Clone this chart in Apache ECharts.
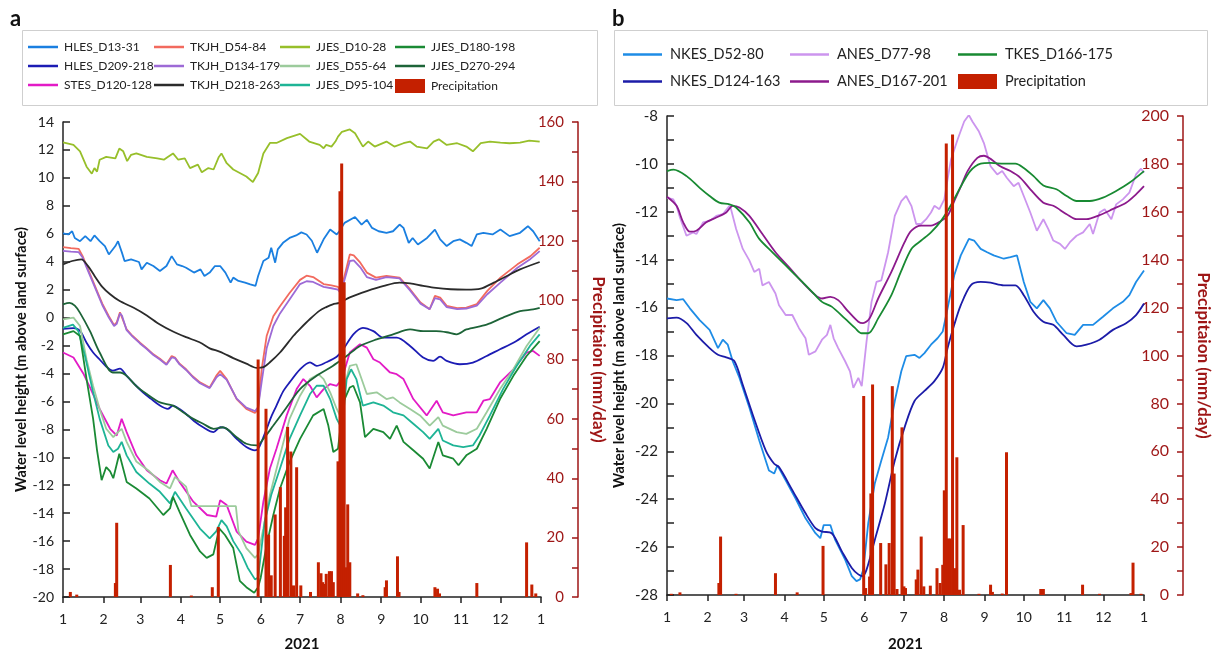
<!DOCTYPE html>
<html><head><meta charset="utf-8">
<script src="https://cdn.jsdelivr.net/npm/echarts@6/dist/echarts.min.js"></script>
<style>html,body{margin:0;padding:0;background:#fff}#c{width:1213px;height:657px}</style>
</head><body><div id="c"></div>
<script>
// ---- shared x axis (day of year 2021) ----
const monthStarts = [0,31,59,90,120,151,181,212,243,273,304,334,365];
const monthLabels = ['1','2','3','4','5','6','7','8','9','10','11','12','1'];

// ---- Panel a : water levels [day, m] ----
const hles13 = [[0,6.02],[4,5.95],[7,6.18],[9,5.7],[13,5.47],[17,5.83],[21,5.47],[24,5.88],[28,5.47],[32,5.12],[35,4.52],[40,5.12],[42,5.47],[45,4.65],[47,4.05],[52,4.17],[58,3.98],[60,3.45],[64,3.93],[69,3.69],[74,3.34],[79,3.69],[83,4.4],[87,3.81],[91,3.69],[94,3.57],[100,3.22],[105,3.45],[108,2.98],[112,3.22],[116,3.69],[120,3.69],[124,3.22],[128,2.5],[130,2.86],[134,2.62],[139,2.5],[143,2.38],[147,2.27],[149,2.98],[153,4.05],[157,4.28],[159,5.0],[162,3.93],[164,4.88],[168,5.35],[173,5.7],[178,5.88],[182,6.1],[186,5.95],[190,5.5],[194,4.64],[199,5.6],[204,6.3],[209,5.95],[211,6.18],[215,6.78],[223,7.2],[228,6.66],[232,7.0],[236,6.42],[241,6.18],[247,6.07],[252,6.18],[257,6.66],[260,6.42],[264,5.35],[267,5.7],[271,5.23],[278,5.7],[284,6.3],[288,5.6],[293,5.12],[298,5.47],[303,5.6],[308,5.35],[312,5.12],[316,5.95],[321,6.07],[328,5.95],[334,6.3],[341,5.83],[349,6.07],[355,6.54],[359,6.18],[364,5.47]];
const hles209 = [[0,-0.8],[8,-0.75],[13,-0.95],[18,-1.8],[23,-2.5],[28,-3.0],[33,-3.5],[38,-3.8],[43.5,-3.65],[48.6,-4.17],[55,-4.8],[61,-5.35],[67,-5.8],[74,-6.3],[80,-6.54],[84,-6.3],[89,-6.55],[94,-6.9],[100,-7.4],[107,-7.85],[115,-8.2],[120,-7.85],[125,-7.96],[132.6,-8.68],[140,-9.27],[146.6,-9.5],[149,-9.39],[152,-8.8],[155.5,-7.96],[159,-7.1],[163,-6.3],[168,-5.3],[173,-4.64],[181,-3.7],[188.6,-3.2],[193.7,-3.46],[201,-3.2],[209,-2.8],[214,-2.27],[221.7,-1.2],[229,-0.73],[237,-0.97],[244.6,-1.44],[254.8,-1.44],[265,-2.03],[275,-2.86],[282.7,-3.1],[287.9,-2.8],[293,-3.1],[303,-3.34],[313,-3.22],[323.5,-2.75],[333.7,-2.27],[343.9,-1.8],[354,-1.2],[364,-0.66]];
const stes120 = [[0,-2.5],[8,-2.86],[15.5,-4.0],[20.6,-5.0],[28,-6.54],[36,-7.96],[41,-8.44],[44.8,-7.25],[48.6,-8.2],[56,-9.86],[64,-10.93],[74,-11.64],[79,-11.88],[83.7,-10.93],[89,-11.76],[99.5,-13.18],[110,-14.13],[117,-14.25],[120,-13.07],[125,-13.42],[132.6,-15.32],[140,-16.03],[146.6,-16.27],[149,-15.8],[153,-13.18],[158,-10.8],[163,-9.39],[170.8,-7.0],[178.4,-5.12],[183.5,-4.4],[188.6,-4.88],[193.7,-5.71],[199,-5.12],[204,-4.76],[209,-4.88],[213,-4.4],[219,-2.5],[226.8,-1.91],[232,-2.15],[237,-2.98],[242,-3.22],[249.7,-3.93],[254.8,-4.05],[260,-4.4],[267.5,-5.83],[277.7,-7.0],[285.3,-5.95],[290,-6.78],[298,-7.0],[308,-6.78],[316,-6.78],[321,-5.95],[326,-5.83],[333.7,-4.64],[343.9,-3.7],[354,-2.5],[359,-2.39],[364,-2.74]];
const tkjh54 = [[0,5.05],[6,4.97],[12,4.92],[15,4.4],[18,3.7],[22,2.8],[26,1.9],[30,1.0],[35,0.1],[39,-0.55],[41,-0.35],[43.5,0.38],[45,0.25],[48.6,-0.85],[53,-1.3],[58.8,-1.8],[64,-2.2],[69,-2.63],[74,-2.95],[79,-3.34],[83,-2.75],[85.5,-2.86],[89,-3.3],[94,-3.7],[99,-4.2],[104.6,-4.64],[112,-5.0],[117,-4.17],[120,-3.81],[125,-4.4],[132.6,-5.83],[140,-6.54],[146.6,-6.83],[149,-6.54],[151.7,-3.7],[155.5,-1.32],[160.6,0.1],[165.7,0.81],[173,1.76],[181,2.7],[186,3.0],[191,2.9],[199,2.4],[205,2.3],[210,2.2],[212,1.85],[215,3.0],[219,4.52],[222,4.45],[227,3.93],[232,3.22],[239,2.86],[247,2.98],[257,2.86],[265,2.03],[273,1.08],[280,0.6],[284,1.55],[288,1.43],[293,0.84],[301,0.67],[308,0.72],[316,0.96],[324,1.91],[334,2.86],[347,3.81],[357,4.4],[364,5.0]];
const tkjh134 = [[0,4.78],[6,4.72],[12,4.68],[15,4.3],[18,3.6],[22,2.7],[26,1.8],[30,0.9],[35,0.0],[39,-0.6],[41,-0.45],[43.5,0.3],[45,0.15],[48.6,-0.9],[53,-1.35],[58.8,-1.85],[64,-2.25],[69,-2.68],[74,-3.0],[79,-3.38],[83,-2.85],[85.5,-2.9],[89,-3.35],[94,-3.75],[99,-4.25],[104.6,-4.7],[112,-5.05],[117,-4.3],[120,-4.05],[125,-4.45],[132.6,-5.8],[140,-6.45],[146.6,-6.7],[149,-6.4],[151.7,-4.6],[155.5,-2.2],[160.6,-0.6],[165.7,0.3],[173,1.3],[181,2.4],[186,2.6],[191,2.55],[199,2.2],[205,2.1],[210,2.0],[212,1.75],[215,2.7],[219,4.05],[222,4.1],[227,3.6],[232,2.9],[239,2.7],[247,2.9],[257,2.8],[265,1.95],[273,1.0],[280,0.6],[284,1.4],[288,1.3],[293,0.75],[301,0.6],[308,0.65],[316,0.85],[324,1.67],[334,2.5],[347,3.57],[357,4.2],[364,4.76]];
const tkjh218 = [[0,3.8],[7,4.05],[14,4.17],[19,3.7],[24,3.0],[30,2.2],[36,1.67],[43,1.2],[54,0.7],[64,0.15],[74,-0.5],[84,-1.0],[94,-1.4],[105,-1.8],[112,-2.2],[120,-2.45],[130,-2.9],[140,-3.3],[148,-3.6],[153,-3.55],[158,-3.2],[165.7,-2.5],[176,-1.3],[181,-0.8],[188.6,-0.1],[196,0.5],[201,0.75],[206,0.95],[211,1.05],[219,1.45],[232,1.9],[245,2.27],[257,2.5],[265,2.45],[275,2.27],[283,2.15],[296,2.03],[308,2.0],[319,2.07],[329,2.5],[339,2.98],[349,3.45],[364,3.98]];
const jjes10 = [[0,12.55],[8,12.36],[13,11.9],[18,10.8],[22,10.3],[24,10.7],[26,10.45],[28,11.3],[33,11.5],[40,11.4],[43,12.1],[46,11.9],[49,11.2],[52,11.65],[56,11.75],[64,11.5],[72,11.4],[77,11.3],[80,11.5],[84,11.75],[88,11.3],[93,11.4],[97,10.7],[103,10.95],[106,10.4],[111,10.7],[115,10.6],[119,11.5],[121,11.75],[125,11.05],[130,10.6],[135,10.35],[140,10.1],[145,9.7],[149,10.35],[153,11.75],[158,12.5],[163,12.5],[171,12.85],[181,13.15],[188,12.6],[196,12.36],[199,12.12],[201,12.36],[205,12.24],[208,12.6],[210,12.95],[213,13.3],[219,13.47],[223,13.2],[229,12.24],[233,12.6],[238,12.24],[247,12.6],[253,12.24],[260,12.48],[265,12.6],[270,12.24],[278,12.12],[283,12.6],[287,12.76],[293,12.36],[301,12.48],[308,12.24],[313,11.9],[319,12.48],[326,12.6],[334,12.53],[341,12.48],[349,12.53],[356,12.67],[364,12.6]];
const jjes55 = [[0,-0.13],[8,0.0],[13,-0.6],[18,-3.0],[23,-4.9],[28,-6.54],[33,-7.96],[38.4,-8.56],[42,-8.2],[44.8,-7.96],[48.6,-8.9],[56,-10.3],[66,-11.0],[74,-11.76],[81.7,-12.23],[85.5,-11.4],[94,-12.1],[98,-13.5],[132,-13.5],[134,-15.3],[140,-16.5],[146.6,-17.2],[149,-16.95],[153,-15.1],[158,-12.7],[165.7,-9.86],[173,-7.25],[181,-5.59],[188.6,-4.4],[195,-4.05],[199,-4.4],[204,-5.35],[209,-6.54],[211.5,-7.0],[215,-4.88],[219,-3.46],[224,-3.34],[228,-4.4],[232,-5.47],[239.5,-5.35],[247,-5.83],[252,-5.71],[257,-6.07],[265,-6.54],[272.6,-7.0],[280,-7.73],[286.6,-7.13],[290,-7.73],[300.6,-8.2],[308,-8.32],[316,-7.96],[323.5,-6.78],[333.7,-5.12],[343.9,-3.7],[354,-2.03],[364,-0.73]];
const jjes95 = [[0,-0.73],[7.6,-0.5],[11.7,-0.97],[16.8,-2.75],[23,-5.35],[28,-7.25],[34.6,-9.15],[38.4,-9.62],[42,-9.39],[44.8,-8.9],[48.6,-9.86],[56,-11.05],[66,-11.88],[74,-12.47],[81.7,-13.3],[85.5,-12.47],[94,-13.66],[104.6,-15.1],[112,-15.8],[117,-15.3],[121,-14.5],[125,-14.95],[130,-16.0],[136.4,-16.95],[141,-17.9],[146.6,-18.74],[149,-18.6],[151,-17.0],[154,-14.6],[159,-12.7],[165.7,-10.8],[173,-8.68],[181,-7.0],[188.6,-5.47],[193.7,-4.88],[199,-4.88],[204,-5.83],[209,-7.25],[213,-7.96],[216.6,-4.4],[220,-3.7],[224,-4.4],[229,-6.3],[237,-6.07],[244.6,-6.3],[252,-6.78],[260,-7.0],[267.5,-7.6],[275,-8.2],[280,-8.68],[286.6,-7.96],[290,-8.8],[298,-9.15],[305.6,-9.27],[313,-9.15],[318,-8.44],[326,-7.0],[336,-5.12],[346.4,-3.46],[356.6,-2.03],[364,-1.2]];
const jjes180 = [[0,-1.2],[8,-0.97],[13,-1.32],[18,-4.4],[23,-7.25],[26,-9.5],[29.5,-11.64],[33,-10.7],[36,-11.0],[38.4,-11.5],[43,-9.74],[48.6,-11.76],[56,-12.23],[66,-12.95],[76.6,-14.13],[81.7,-13.66],[84,-12.83],[89,-13.9],[97,-15.56],[104.6,-16.74],[109.7,-17.2],[114.8,-16.95],[119.4,-15.1],[123.7,-15.56],[130,-16.5],[135,-18.85],[140,-19.3],[146,-19.7],[149,-19.3],[151,-18.6],[155.5,-16.27],[160.6,-14.13],[165.7,-12.23],[173,-10.34],[181,-8.68],[191,-7.0],[199,-6.54],[202.6,-7.73],[206.4,-9.62],[210,-9.39],[214,-6.07],[219,-5.0],[221.7,-4.88],[226.8,-6.07],[230.6,-8.56],[237,-7.96],[244.6,-8.2],[249.7,-8.68],[254.8,-7.73],[260,-8.9],[267.5,-9.5],[275,-10.1],[280,-10.8],[286.6,-8.9],[290,-9.86],[298,-10.1],[302,-10.57],[308,-9.86],[316,-9.39],[323.5,-7.96],[333.7,-5.83],[343.9,-4.17],[354,-2.75],[364,-1.68]];
const jjes270 = [[0,0.95],[5,1.05],[9,0.85],[13,0.34],[20.6,-0.97],[28,-2.5],[38,-3.93],[43.5,-3.93],[48.6,-4.17],[56,-4.9],[64,-5.47],[74,-6.07],[84,-6.3],[92,-6.8],[99.5,-7.25],[107,-7.6],[115,-7.96],[122,-7.85],[132.6,-8.56],[140,-9.03],[148,-9.15],[153,-8.68],[160.6,-7.73],[170.8,-6.42],[181,-5.12],[193.7,-4.17],[206,-3.46],[216.6,-2.75],[226.8,-2.03],[239.5,-1.56],[252,-1.2],[265,-0.85],[275,-0.97],[285,-0.97],[293,-1.05],[300.6,-1.2],[308,-0.85],[323.5,-0.5],[336,0.0],[349,0.46],[359,0.58],[364,0.7]];
const precipA = [[5.6,1.7],[10.5,0.8],[40,4.7],[41,25],[82,10.8],[98,0.5],[114,3.3],[118.6,23.6],[149,80],[155,63.4],[157,21],[159,7.3],[162,27.8],[166,37],[169,20.6],[170,30.2],[171.5,57.3],[174,49],[176,3.9],[178.4,43.7],[181.6,3.9],[189,1.7],[195,11.7],[197,8.0],[198.3,5.0],[199.6,4.4],[201,7.8],[203.4,8.7],[205,8.7],[206.4,5.0],[210,45.7],[211.5,136.7],[212.8,146],[214.7,106],[215.8,10],[217.4,31.2],[219,11.7],[225,1.2],[229,0.6],[246,3.3],[247,5.6],[255.4,13.7],[256.6,1.7],[284,3.3],[286,2.8],[287.5,1.2],[316,4.7],[354,18.4],[358,4.2],[361,1.2]];

// ---- Panel b : water levels [day, m] ----
const nkes52 = [[0,-15.62],[7.3,-15.69],[12.4,-15.65],[17.5,-16.03],[25,-16.52],[32.6,-16.93],[39,-17.69],[42.7,-17.34],[46.5,-17.55],[50.3,-18.24],[55.4,-18.93],[63,-20.17],[70.6,-21.55],[78,-22.8],[82,-22.93],[84.5,-22.59],[90.8,-23.21],[98.4,-23.97],[106,-24.8],[113.6,-25.42],[117.3,-25.63],[119.9,-25.08],[125,-25.08],[128.7,-25.7],[136.3,-26.52],[141.4,-27.21],[145,-27.42],[147.7,-27.35],[150.2,-26.94],[154,-25.0],[159,-23.34],[164,-22.38],[169.2,-21.42],[174.3,-19.9],[179.3,-18.66],[183,-18.03],[189.4,-17.97],[193.2,-18.1],[197,-17.9],[202,-17.55],[207,-17.28],[211,-17.0],[214.7,-16.03],[219.8,-14.65],[224.8,-13.82],[231,-13.13],[235,-13.2],[240,-13.55],[245,-13.69],[250,-13.82],[257.7,-13.96],[262.8,-13.89],[267.8,-13.82],[273,-14.93],[278,-15.76],[283,-16.03],[288,-15.69],[293,-16.03],[298,-16.59],[305.8,-17.07],[312,-17.14],[318.4,-16.72],[326,-16.72],[333.6,-16.38],[341.2,-16.03],[348.8,-15.76],[353.8,-15.48],[358.9,-14.93],[365,-14.45]];
const nkes124 = [[0,-16.45],[7.3,-16.42],[15,-16.65],[22.5,-17.14],[32.6,-17.69],[39,-17.97],[45.3,-18.08],[51.6,-18.24],[57.9,-19.21],[65.5,-20.45],[75.6,-21.97],[82,-22.52],[85.7,-22.66],[95.9,-23.62],[106,-24.59],[113.6,-25.21],[118.6,-25.35],[126,-25.42],[133.8,-26.18],[141.4,-26.87],[146.4,-27.14],[149.5,-27.21],[152.7,-26.94],[159,-25.7],[166.7,-24.18],[174.3,-22.38],[181.8,-21.0],[189.4,-19.9],[197,-19.48],[204.6,-19.07],[211,-18.52],[214.7,-17.69],[219.8,-16.72],[224.8,-15.9],[232.4,-15.07],[240,-14.93],[247.6,-14.96],[257.7,-15.07],[266.6,-15.07],[273,-15.48],[280.5,-16.17],[288,-16.59],[295.6,-16.72],[303.2,-17.14],[313.4,-17.62],[321,-17.55],[331,-17.34],[341.2,-16.93],[351.3,-16.65],[358.9,-16.31],[365,-15.83]];
const anes77 = [[0,-11.41],[4.8,-11.48],[7.3,-11.75],[9.9,-12.24],[14.9,-13.0],[20,-12.86],[22.5,-12.93],[27.6,-12.44],[32.6,-12.38],[37.7,-12.17],[42.7,-12.1],[47.8,-11.75],[49,-11.89],[52.9,-12.72],[58,-13.55],[63,-14.03],[66.8,-14.51],[70.6,-14.38],[73,-15.07],[78,-14.93],[83,-15.41],[85.7,-15.9],[90.8,-16.31],[95.9,-16.31],[101,-16.86],[106,-17.28],[108.5,-17.97],[113.6,-17.83],[118.6,-17.34],[122.4,-17.14],[125,-16.72],[127.5,-17.28],[131,-17.69],[136.3,-18.24],[140,-18.66],[142.6,-19.35],[146.4,-18.93],[149,-19.28],[152.7,-17.41],[156.5,-15.76],[160.3,-14.93],[164,-14.86],[169.2,-13.69],[174.3,-12.17],[179.3,-11.55],[183,-11.34],[187,-11.75],[190.7,-12.51],[194.5,-12.51],[198.3,-12.31],[202,-12.03],[204.6,-11.75],[208.4,-11.89],[212.2,-11.48],[214.7,-10.65],[217.3,-9.82],[222.3,-8.99],[227.4,-8.23],[231,-7.96],[233.7,-8.23],[238.7,-8.65],[242.5,-9.13],[245,-9.61],[247.6,-10.1],[252.7,-10.44],[256.5,-10.3],[260,-10.58],[265.3,-10.93],[269,-10.79],[273,-11.34],[278,-12.03],[283,-12.79],[288,-12.31],[291.8,-12.72],[295.6,-13.2],[300.7,-13.34],[304.5,-13.55],[308.3,-13.27],[313.4,-13.0],[318.4,-12.86],[323.5,-12.51],[326,-12.93],[331,-12.03],[334.9,-11.89],[340,-12.31],[343.7,-11.69],[348.8,-11.48],[353.8,-11.2],[358.9,-10.44],[362.7,-10.2],[365,-10.37]];
const anes167 = [[0,-11.37],[7.3,-11.75],[12.4,-12.44],[17.5,-12.83],[22.5,-12.79],[30,-12.44],[37.7,-12.24],[45.3,-12.03],[50.3,-11.75],[55.4,-11.82],[63,-12.17],[73,-12.93],[83,-13.69],[93.3,-14.31],[103.4,-14.93],[113.6,-15.48],[118.6,-15.62],[125,-15.55],[131,-15.69],[138.8,-16.17],[146.4,-16.59],[150,-16.65],[155,-16.45],[161.6,-15.62],[171.7,-14.51],[181.8,-13.27],[187,-12.79],[194.5,-12.58],[202,-12.58],[209.7,-12.38],[214.7,-12.17],[219.8,-11.55],[225,-10.93],[230,-10.3],[237.5,-9.75],[242.5,-9.66],[247.6,-9.79],[255,-10.1],[262.8,-10.3],[270.4,-10.58],[278,-11.06],[288,-11.62],[295.6,-11.75],[305.8,-12.1],[313.4,-12.31],[321,-12.31],[331,-12.14],[341,-11.89],[351.3,-11.62],[358.9,-11.27],[365,-10.93]];
const tkes166 = [[0,-10.3],[5,-10.24],[15,-10.51],[25,-11.0],[32.6,-11.34],[40,-11.62],[47.8,-11.69],[52.9,-11.82],[63,-12.44],[70.6,-13.13],[80.7,-13.69],[90.8,-14.24],[101,-14.79],[111,-15.34],[118.6,-15.76],[126,-15.96],[136,-16.45],[144,-16.86],[149,-17.07],[154,-17.07],[161.6,-16.45],[171.7,-15.48],[179,-14.5],[187,-13.55],[194.5,-13.2],[202,-12.86],[209.7,-12.38],[217,-11.75],[225,-10.93],[232,-10.3],[240,-9.99],[247.6,-9.96],[257.7,-9.99],[266.6,-9.99],[273,-10.17],[280.5,-10.51],[288,-10.9],[298,-11.06],[305.8,-11.34],[313.4,-11.55],[323.5,-11.55],[333.6,-11.41],[343.7,-11.13],[353.8,-10.79],[365,-10.3]];
const precipB = [[3.3,0.5],[9.9,1.1],[39.7,5.0],[41,24.4],[52.8,0.5],[83,9.1],[99.6,1.1],[119.4,20.5],[150.5,83.1],[152,2.9],[155,7.7],[156,42.4],[157.3,87.9],[163.5,21.7],[167.5,12.8],[170,21.7],[172.4,87.2],[173.8,50.7],[176,2.5],[179.8,70],[181.3,3.6],[182.5,2.9],[190.7,6.5],[192,10.6],[194.5,24.4],[196.5,3.6],[201.5,3.9],[206.6,11.2],[209,5.0],[211,12.6],[212.2,43.7],[213.7,188.5],[215,23.6],[216.7,23.6],[218.5,192.3],[220.3,11.2],[221.8,57.5],[223.8,2.2],[226.6,29.2],[238.7,0.5],[247.6,4.3],[249,1.3],[256.5,0.6],[259.8,59.6],[286,2.5],[288,2.5],[318,4.3],[331,0.5],[355,0.8],[356.6,13.5],[362.7,0.5]];

// ---- styling / assembly ----
const FONT = 'Lato, "Noto Sans", sans-serif';
const DARKRED = '#9e1616';
const BARCOLOR = '#c42000';
const LINE_ICON_A = 'path://M0,0H12V1H0Z';
const LINE_ICON_B = 'path://M0,0H16V1H0Z';

const linesA = [
  ['HLES_D13-31', hles13, '#1a7fe0', false],
  ['HLES_D209-218', hles209, '#1c1cb4', true],
  ['STES_D120-128', stes120, '#e31bc6', false],
  ['TKJH_D54-84', tkjh54, '#f26a5e', false],
  ['TKJH_D134-179', tkjh134, '#9d6ad6', false],
  ['TKJH_D218-263', tkjh218, '#2b2b2b', true],
  ['JJES_D10-28', jjes10, '#97bf2a', false],
  ['JJES_D55-64', jjes55, '#9ccb9c', false],
  ['JJES_D95-104', jjes95, '#1eb496', false],
  ['JJES_D180-198', jjes180, '#1a8a34', false],
  ['JJES_D270-294', jjes270, '#1d6438', true]
];
const linesB = [
  ['NKES_D52-80', nkes52, '#1e8ce6', false],
  ['NKES_D124-163', nkes124, '#1c1ca8', true],
  ['ANES_D77-98', anes77, '#cc95ee', false],
  ['ANES_D167-201', anes167, '#8c1a8c', true],
  ['TKES_D166-175', tkes166, '#188a32', true]
];

function lineSeries(def, xi, yi, w) {
  return {
    type: 'line', name: def[0], data: def[1], xAxisIndex: xi, yAxisIndex: yi,
    symbol: 'none', showSymbol: false, smooth: def[3] ? 0.3 : false,
    lineStyle: { color: def[2], width: w }, itemStyle: { color: def[2] }, z: 2
  };
}
const series = [];
linesA.forEach(d => series.push(lineSeries(d, 0, 0, 1.8)));
series.push({ type: 'bar', name: 'Precipitation', data: precipA, xAxisIndex: 0, yAxisIndex: 1,
  barWidth: 3, itemStyle: { color: BARCOLOR }, z: 5 });
linesB.forEach(d => series.push(lineSeries(d, 1, 2, 1.8)));
series.push({ type: 'bar', name: 'Precipitation', data: precipB, xAxisIndex: 1, yAxisIndex: 3,
  barWidth: 3, itemStyle: { color: BARCOLOR }, z: 5 });

function xAxisDef(grid, nameGap) {
  return {
    type: 'value', gridIndex: grid, min: 0, max: 365,
    name: '2021', nameLocation: 'middle', nameGap: nameGap,
    nameTextStyle: { fontFamily: FONT, fontWeight: 'bold', fontSize: 15, color: '#111', verticalAlign: 'top' },
    axisLine: { show: true, onZero: false, lineStyle: { color: '#222', width: 1.5 } },
    axisTick: { show: true, inside: false, length: 6, customValues: monthStarts, lineStyle: { color: '#222', width: 1.5 } },
    axisLabel: { customValues: monthStarts, margin: 15, fontFamily: FONT, fontSize: 14, color: '#222',
      formatter: v => monthLabels[monthStarts.indexOf(v)] },
    splitLine: { show: false }
  };
}
function leftAxis(grid, min, max, minor, nameGap, fs) {
  return {
    type: 'value', gridIndex: grid, position: 'left', min: min, max: max, interval: 2,
    name: 'Water level height (m above land surface)', nameLocation: 'middle', nameGap: nameGap,
    nameTextStyle: { fontFamily: FONT, fontWeight: 'bold', fontSize: 14.5, color: '#111' },
    axisLine: { show: true, onZero: false, lineStyle: { color: '#222', width: 1.5 } },
    axisTick: { show: true, inside: true, length: 7, lineStyle: { color: '#222', width: 1.5 } },
    minorTick: { show: minor, splitNumber: 2, length: 7, lineStyle: { color: '#222', width: 1.5 } },
    axisLabel: { margin: 9, fontFamily: FONT, fontSize: fs, color: '#222' },
    splitLine: { show: false }
  };
}
function rightAxis(grid, max, offset, nameGap, fs) {
  return {
    type: 'value', gridIndex: grid, position: 'right', offset: offset, min: 0, max: max, interval: 20,
    name: 'Precipitaion (mm/day)', nameLocation: 'middle', nameRotate: -90, nameGap: nameGap,
    nameTextStyle: { fontFamily: FONT, fontWeight: 'bold', fontSize: 17, color: DARKRED },
    axisLine: { show: true, onZero: false, lineStyle: { color: DARKRED, width: 1.5 } },
    axisTick: { show: true, inside: true, length: 6, lineStyle: { color: DARKRED, width: 1.5 } },
    minorTick: { show: true, splitNumber: 2, length: 6, lineStyle: { color: DARKRED, width: 1.5 } },
    axisLabel: { inside: true, margin: 14, fontFamily: FONT, fontSize: fs, color: DARKRED },
    splitLine: { show: false }
  };
}
function legendCol(left, top, names, iw, ih, gap, fs, icon, padL) {
  return {
    orient: 'vertical', left: left, top: top, padding: 0, itemGap: gap,
    itemWidth: iw, itemHeight: ih, selectedMode: false,
    data: names.map(n => n === 'Precipitation' ? { name: n, icon: 'rect' } : { name: n, icon: icon }),
    textStyle: { fontFamily: FONT, fontSize: fs, color: '#222', padding: [0, 0, 0, padL] }
  };
}

const chart = echarts.init(document.getElementById('c'), null, { renderer: 'canvas' });
chart.setOption({
  animation: false,
  backgroundColor: '#fff',
  textStyle: { fontFamily: FONT },
  title: [
    { text: 'a', left: 5, top: 3, textStyle: { fontFamily: FONT, fontWeight: 'bold', fontSize: 22, color: '#111' } },
    { text: 'b', left: 607, top: 3, textStyle: { fontFamily: FONT, fontWeight: 'bold', fontSize: 22, color: '#111' } }
  ],
  graphic: [
    { type: 'rect', shape: { x: 22.5, y: 30.5, width: 575, height: 75 }, style: { fill: 'none', stroke: '#cfcfcf', lineWidth: 1 }, silent: true },
    { type: 'rect', shape: { x: 614.5, y: 30.5, width: 593, height: 75 }, style: { fill: 'none', stroke: '#cfcfcf', lineWidth: 1 }, silent: true }
  ],
  legend: [
    legendCol(28, 41, ['HLES_D13-31', 'HLES_D209-218', 'STES_D120-128'], 30, 14, 7, 12, LINE_ICON_A, 1),
    legendCol(154, 41, ['TKJH_D54-84', 'TKJH_D134-179', 'TKJH_D218-263'], 30, 14, 7, 12, LINE_ICON_A, 1),
    legendCol(280, 41, ['JJES_D10-28', 'JJES_D55-64', 'JJES_D95-104'], 30, 14, 7, 12, LINE_ICON_A, 1),
    legendCol(395, 41, ['JJES_D180-198', 'JJES_D270-294', 'Precipitation'], 30, 14, 7, 12, LINE_ICON_A, 1),
    legendCol(623, 47, ['NKES_D52-80', 'NKES_D124-163'], 39, 15, 12, 14.5, LINE_ICON_B, 3),
    legendCol(790, 47, ['ANES_D77-98', 'ANES_D167-201'], 39, 15, 12, 14.5, LINE_ICON_B, 3),
    legendCol(958, 47, ['TKES_D166-175', 'Precipitation'], 39, 15, 12, 14.5, LINE_ICON_B, 3)
  ],
  grid: [
    { left: 63, right: 672, top: 122, bottom: 57 },
    { left: 667, right: 65, top: 116, bottom: 58 }
  ],
  xAxis: [xAxisDef(0, 40), xAxisDef(1, 42)],
  yAxis: [
    leftAxis(0, -20, 14, false, 33, 14),
    rightAxis(0, 160, 37, 12, 15),
    leftAxis(1, -28, -8, true, 40, 15),
    rightAxis(1, 200, 39, 12, 16)
  ],
  series: series
});
</script>
</body></html>
